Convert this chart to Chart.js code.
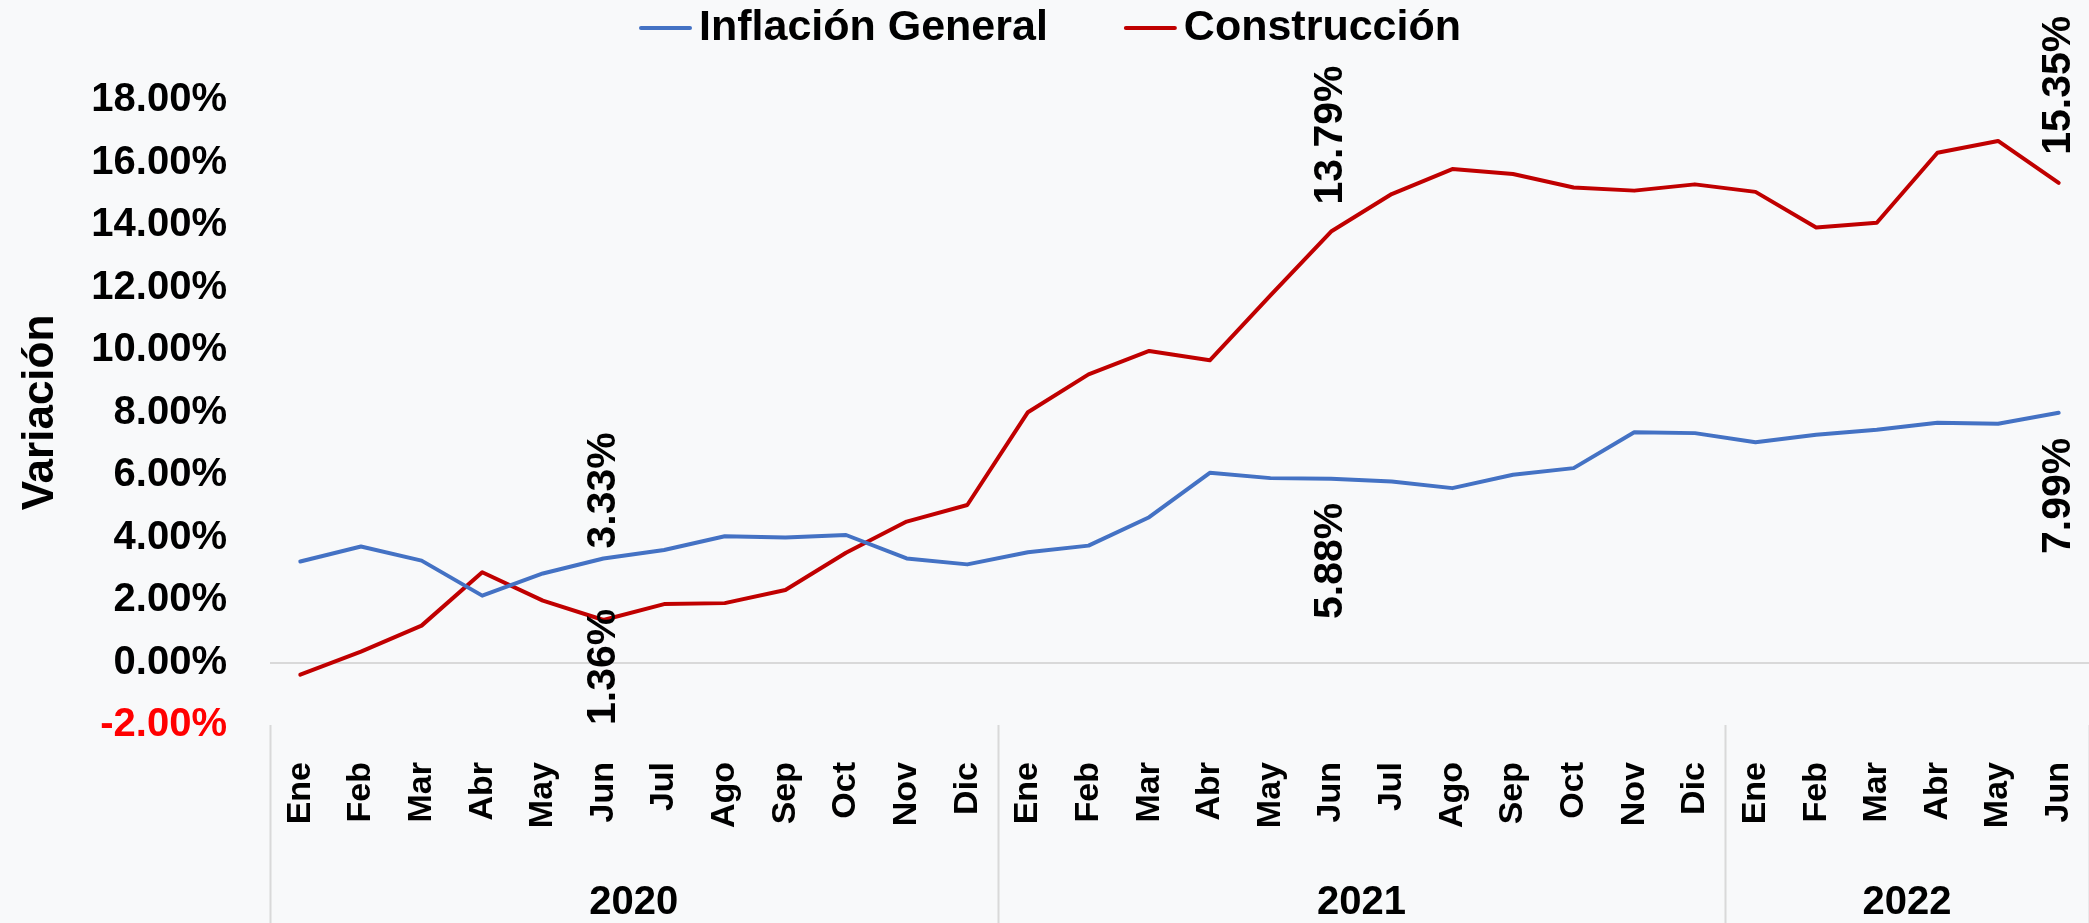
<!DOCTYPE html>
<html>
<head>
<meta charset="utf-8">
<script src="https://cdn.jsdelivr.net/npm/chart.js@4.4.1/dist/chart.umd.min.js"></script>
<style>
html,body{margin:0;padding:0;background:#f8f9fa;}
canvas{display:block;}
</style>
</head>
<body>
<canvas id="c" width="2089" height="923"></canvas>
<script>
// ---- data ----
const months = ['Ene','Feb','Mar','Abr','May','Jun','Jul','Ago','Sep','Oct','Nov','Dic',
                'Ene','Feb','Mar','Abr','May','Jun','Jul','Ago','Sep','Oct','Nov','Dic',
                'Ene','Feb','Mar','Abr','May','Jun'];
const years = ['2020','2021','2022'];
const monthsPerYear = [12,12,6];
const inflacionGeneral = [3.23,3.71,3.26,2.14,2.85,3.33,3.60,4.04,4.00,4.08,3.33,3.14,
                          3.53,3.74,4.65,6.07,5.90,5.88,5.79,5.58,6.01,6.22,7.37,7.34,
                          7.05,7.29,7.45,7.67,7.64,7.99];
const construccion = [-0.39,0.35,1.18,2.89,1.98,1.36,1.87,1.90,2.32,3.51,4.51,5.04,
                      8.01,9.22,9.97,9.67,11.75,13.79,14.99,15.79,15.63,15.20,15.10,15.30,
                      15.06,13.92,14.07,16.31,16.69,15.35];
const yTicks = [-2,0,2,4,6,8,10,12,14,16,18];
const labeledPoints = [5,17,29];
const seriesNames = ['Inflación General','Construcción'];

const FONT = '"Liberation Sans", Arial, sans-serif';
const BLUE = '#4472C4';
const RED = '#C00000';

// label placement (per dataset, per labelled point)
const placement = [
  [{pos:'above',gap:10},{pos:'below',gap:24},{pos:'below',gap:25}],
  [{pos:'below',gap:24},{pos:'above',gap:27},{pos:'above',gap:28}]
];

const bgPlugin = {
  id:'bg',
  beforeDraw(chart){
    const c = chart.ctx;
    c.save();
    c.fillStyle = '#f8f9fa';
    c.fillRect(0,0,chart.width,chart.height);
    c.restore();
  }
};

const labelPlugin = {
  id:'pointLabels',
  afterDatasetsDraw(chart){
    const c = chart.ctx;
    const area = chart.chartArea;
    chart.data.datasets.forEach((ds,di)=>{
      const meta = chart.getDatasetMeta(di);
      labeledPoints.forEach((idx,k)=>{
        const el = meta.data[idx];
        const txt = ds.data[idx].toFixed(2) + '%';
        c.save();
        c.font = 'bold 41px ' + FONT;
        const w = c.measureText(txt).width;
        const p = placement[di][k];
        let startY;
        if (p.pos === 'above') {
          startY = el.y - p.gap;
        } else {
          startY = el.y + p.gap + w;
          if (startY > area.bottom) startY = area.bottom;
        }
        c.translate(el.x, startY);
        c.rotate(-Math.PI/2);
        c.textAlign = 'left';
        c.textBaseline = 'middle';
        c.fillStyle = '#000';
        c.fillText(txt, 0, 0);
        c.restore();
      });
    });
  }
};

const groupPlugin = {
  id:'yearGroups',
  afterDraw(chart){
    const c = chart.ctx;
    const xs = chart.scales.x;
    const half = (xs.getPixelForValue(1) - xs.getPixelForValue(0)) / 2;
    const edge = i => i < months.length ? xs.getPixelForValue(i) - half : xs.getPixelForValue(i-1) + half;
    const top = chart.chartArea.bottom;
    c.save();
    c.strokeStyle = '#d9d9d9';
    c.lineWidth = 2;
    let start = 0;
    const bounds = [0];
    monthsPerYear.forEach(n => { start += n; bounds.push(start); });
    bounds.forEach(b => {
      const x = Math.round(edge(b)) + 0.5;
      c.beginPath(); c.moveTo(x, top); c.lineTo(x, chart.height); c.stroke();
    });
    c.fillStyle = '#000';
    c.font = 'bold 40px ' + FONT;
    c.textAlign = 'center';
    c.textBaseline = 'middle';
    years.forEach((y,i) => {
      const x = (edge(bounds[i]) + edge(bounds[i+1])) / 2;
      c.fillText(y, x, 903);
    });
    c.restore();
  }
};

const legendPlugin = {
  id:'customLegend',
  afterDraw(chart){
    const c = chart.ctx;
    c.save();
    c.font = 'bold 43px ' + FONT;
    const lineLen = 53, gap = 7, itemGap = 76;
    const items = chart.data.datasets.map(ds => ({label: ds.label, color: ds.borderColor, w: c.measureText(ds.label).width}));
    const total = items.reduce((s,it)=> s + lineLen + gap + it.w, 0) + itemGap*(items.length-1);
    let x = 1050 - total/2;
    const y = 28;
    items.forEach(it => {
      c.strokeStyle = it.color;
      c.lineWidth = 4;
      c.lineCap = 'round';
      c.beginPath(); c.moveTo(x+2, y); c.lineTo(x+lineLen-2, y); c.stroke();
      c.fillStyle = '#000';
      c.textAlign = 'left';
      c.textBaseline = 'middle';
      c.fillText(it.label, x + lineLen + gap, y);
      x += lineLen + gap + it.w + itemGap;
    });
    c.restore();
  }
};

new Chart(document.getElementById('c'), {
  type:'line',
  data:{
    labels: months,
    datasets:[
      {label: seriesNames[0], data: inflacionGeneral, borderColor: BLUE, backgroundColor: BLUE,
       borderWidth:4, pointRadius:0, tension:0, fill:false, borderJoinStyle:'round', borderCapStyle:'round'},
      {label: seriesNames[1], data: construccion, borderColor: RED, backgroundColor: RED,
       borderWidth:4, pointRadius:0, tension:0, fill:false, borderJoinStyle:'round', borderCapStyle:'round'}
    ]
  },
  options:{
    responsive:false,
    animation:false,
    devicePixelRatio:1,
    layout:{padding:{top:100,left:0,right:0,bottom:0}},
    plugins:{
      legend:{display:false},
      tooltip:{enabled:false}
    },
    scales:{
      x:{
        type:'category',
        offset:true,
        grid:{display:false, drawTicks:false},
        border:{display:false},
        ticks:{
          autoSkip:false, minRotation:90, maxRotation:90, padding:37,
          color:'#000', font:{family:FONT, size:34, weight:'bold'}
        },
        afterFit(s){ s.height = 198; s.paddingLeft = 0; s.paddingRight = 0; }
      },
      y:{
        type:'linear',
        min:-2, max:18,
        afterBuildTicks(s){ s.ticks = yTicks.map(v => ({value:v})); },
        grid:{
          drawTicks:false,
          color: ctx => (ctx.tick && ctx.tick.value === 0) ? '#d9d9d9' : 'rgba(0,0,0,0)',
          lineWidth:2
        },
        border:{display:false},
        ticks:{
          padding:43,
          callback: v => v.toFixed(2) + '%',
          color: ctx => (ctx.tick && ctx.tick.value < 0) ? '#FF0000' : '#000',
          font:{family:FONT, size:40, weight:'bold'}
        },
        title:{
          display:true, text:'Variación', color:'#000',
          font:{family:FONT, size:44, weight:'bold'},
          padding:{top:14, bottom:0}
        },
        afterFit(s){ s.width = 270; }
      }
    }
  },
  plugins:[bgPlugin, labelPlugin, groupPlugin, legendPlugin]
});
</script>
</body>
</html>
